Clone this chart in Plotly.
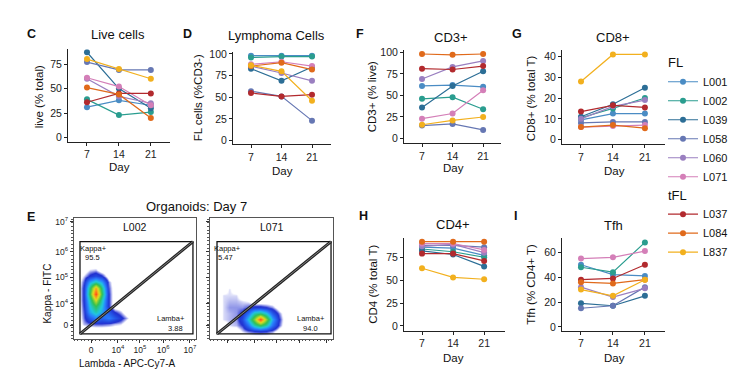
import plotly.graph_objects as go

W, H = 740, 370

days = [7, 14, 21]
patients = ["L001", "L002", "L039", "L058", "L060", "L071", "L037", "L084", "L837"]
groups = ["FL", "FL", "FL", "FL", "FL", "FL", "tFL", "tFL", "tFL"]
colors = ["#4A8CC4", "#2A9D8F", "#2C6E96", "#6677B3", "#9A7FC0", "#D47FB8",
          "#B22A2E", "#E06A1B", "#F2B01E"]

# values per patient (order as in `patients`), days 7/14/21
live_cells = [[31, 38, 33], [39, 23, 26], [87, 50, 30], [77, 69, 69], [60, 42, 35],
              [61, 52, 33], [36, 45, 45], [51, 44, 20], [80, 70, 60]]
lymphoma_cells = [[98, 98, 98], [96, 97, 97], [83, 69, 85], [57, 51, 23], [86, 78, 69],
                  [88, 91, 86], [55, 51, 53], [86, 90, 82], [87, 80, 46]]
cd3 = [[61, 62, 60], [46, 48, 34], [36, 61, 78], [15, 17, 10], [69, 83, 90],
       [23, 29, 56], [81, 80, 84], [98, 97, 98], [16, 21, 25]]
cd8 = [[9.5, 12.5, 12.5], [10.5, 15, 20], [11, 17, 25], [8, 8.5, 8.5], [10, 16, 19],
       [6, 6.5, 7], [13.5, 16.5, 15.5], [6, 7, 5.5], [28, 41, 41]]
cd4 = [[86, 85, 77], [84, 81, 75], [82, 78, 65], [88, 88, 86], [87, 89, 80],
       [90, 90, 83], [79, 79, 71], [92, 92, 92], [63, 53, 51]]
tfh = [[50, 42, 41], [48, 44, 68], [19, 17, 25], [15, 17, 32], [32, 24, 31],
       [55, 56, 61], [38, 39, 50], [36, 35, 38], [30, 25, 38]]

# flow cytometry (display scale 0-100), hand-estimated density grids
flow_ticks = [14, 36, 54, 73, 95]
flow_yticks = [11, 29, 51, 72, 97]
flow_ticktext = ["0", "10<sup>4</sup>", "10<sup>5</sup>", "10<sup>6</sup>", "10<sup>7</sup>"]
l002_x = [3, 8, 13, 18, 23, 28, 33, 38, 43, 48]
l002_y = [7, 12, 17, 22, 27, 32, 37, 42, 47, 52, 57, 62]
l002_density = [
    [0, 0, 0, 0, 0, 0, 0, 0, 0, 0],
    [0, 0.6, 0.8, 0.9, 0.9, 0.8, 0.6, 0.5, 0, 0],
    [0, 0.8, 1.8, 2.5, 2, 2.5, 1.8, 1.2, 0.6, 0],
    [0, 0.9, 3, 4, 3, 1.8, 1, 0.6, 0, 0],
    [0, 1, 3.5, 5, 3.5, 1, 0, 0, 0, 0],
    [0, 1.1, 4, 7, 4, 1, 0, 0, 0, 0],
    [0, 1.1, 5, 9.5, 5, 1, 0, 0, 0, 0],
    [0, 1.1, 4.5, 8, 4.5, 0.9, 0, 0, 0, 0],
    [0, 0.9, 3, 4, 3, 0.7, 0, 0, 0, 0],
    [0, 0.5, 1.1, 1.5, 1.1, 0, 0, 0, 0, 0],
    [0, 0, 0.5, 0.6, 0, 0, 0, 0, 0, 0],
    [0, 0, 0, 0, 0, 0, 0, 0, 0, 0],
]
l071_x = [6, 11, 16, 21, 26, 31, 36, 41, 46, 51, 56, 61, 66]
l071_y = [1, 6, 11, 16, 21, 26, 31, 36, 41, 46]
l071_density = [
    [0, 0, 0, 0, 0, 0, 0, 0, 0, 0, 0, 0, 0],
    [0, 0, 0, 0, 0.5, 0.8, 1, 1.1, 1, 0.7, 0, 0, 0],
    [0, 0, 0.5, 0.6, 1, 2.2, 4, 5, 4, 2.2, 0.8, 0, 0],
    [0, 0.5, 0.6, 0.7, 1.5, 3.5, 6, 9.5, 6, 3, 1, 0, 0],
    [0, 0.5, 0.6, 0.7, 1.1, 2.2, 4, 4.5, 3.5, 1.8, 0.7, 0, 0],
    [0, 0.5, 0.7, 0.7, 0.7, 0.9, 1.2, 1.2, 1, 0.7, 0, 0, 0],
    [0, 0.5, 0.6, 0.6, 0.5, 0.4, 0, 0, 0, 0, 0, 0, 0],
    [0, 0.5, 0.5, 0.5, 0, 0, 0, 0, 0, 0, 0, 0, 0],
    [0, 0, 0.5, 0, 0, 0, 0, 0, 0, 0, 0, 0, 0],
    [0, 0, 0, 0, 0, 0, 0, 0, 0, 0, 0, 0, 0],
]
gate_l002 = [4.9, 4, 97.5, 80.5]
gate_l071 = [5.7, 4, 98.4, 80.5]

FONT = "Liberation Sans, Arial, sans-serif"


def px_x(p):
    return p / W


def px_y(p):
    return 1 - p / H


fig = go.Figure()

panels = [
    (live_cells, (60, 162), (37, 131), (2.84, 25.2), (-4, 90), [0, 25, 50, 75]),
    (lymphoma_cells, (225, 323), (40, 134), (2.87, 25.36), (-4.5, 102), [0, 25, 50, 75, 100]),
    (cd3, (396, 493), (38, 133), (2.87, 25.1), (-5.7, 102.3), [0, 25, 50, 75, 100]),
    (cd8, (554, 657), (38, 134), (2.84, 25.4), (-2.35, 43), [0, 10, 20, 30, 40]),
    (cd4, (396, 497), (229, 324), (2.94, 25.7), (-5.4, 96.4), [0, 25, 50, 75]),
    (tfh, (554, 657), (229, 324), (2.84, 25.4), (-3.2, 71.8), [0, 20, 40, 60]),
]

layout_axes = {}
for k, (vals, dxp, dyp, xr, yr, yt) in enumerate(panels, start=1):
    xa = "x" if k == 1 else f"x{k}"
    ya = "y" if k == 1 else f"y{k}"
    for i, p in enumerate(patients):
        fig.add_trace(go.Scatter(
            x=days, y=vals[i], mode="lines+markers", name=p,
            line=dict(color=colors[i], width=1.2),
            marker=dict(color=colors[i], size=6),
            xaxis=xa, yaxis=ya,
            legend="legend" if groups[i] == "FL" else "legend2",
            legendgroup=groups[i], legendgrouptitle_text=groups[i],
            showlegend=(k == 1), hoverinfo="skip"))
    axcommon = dict(showline=True, linecolor="#222", linewidth=1, ticks="outside",
                    ticklen=3, tickcolor="#222", showgrid=False, zeroline=False,
                    tickfont=dict(size=10.5, color="#222", family=FONT))
    layout_axes["xaxis" if k == 1 else f"xaxis{k}"] = dict(
        domain=[px_x(dxp[0]), px_x(dxp[1])], anchor=ya, range=list(xr),
        tickvals=days, **axcommon)
    layout_axes["yaxis" if k == 1 else f"yaxis{k}"] = dict(
        domain=[px_y(dyp[1]), px_y(dyp[0])], anchor=xa, range=list(yr),
        tickvals=yt, **axcommon)

# flow density panels
jet = [[0, "rgba(255,255,255,0)"], [0.04, "rgba(30,40,210,0)"], [0.1, "#2030d0"],
       [0.25, "#2a7fff"], [0.35, "#20c8e0"], [0.5, "#30c050"], [0.7, "#e0e020"],
       [0.85, "#ff8a1a"], [1, "#ff1a1a"]]
fig.add_trace(go.Heatmap(x=l002_x, y=l002_y, z=l002_density, colorscale=jet, zmin=0, zmax=10,
                         zsmooth="best", showscale=False, xaxis="x7", yaxis="y7",
                         hoverinfo="skip"))
fig.add_trace(go.Heatmap(x=l071_x, y=l071_y, z=l071_density, colorscale=jet, zmin=0, zmax=10,
                         zsmooth="best", showscale=False, xaxis="x8", yaxis="y8",
                         hoverinfo="skip"))

flowax = dict(showline=True, mirror=True, linecolor="#555", linewidth=1.3, ticks="outside",
              ticklen=3, tickcolor="#333", showgrid=False, zeroline=False, range=[0, 100],
              tickfont=dict(size=8.5, color="#222", family=FONT),
              minor=dict(ticks="outside", ticklen=1.5, tickcolor="#555", dtick=3))
layout_axes["xaxis7"] = dict(domain=[px_x(66), px_x(188)], anchor="y7", tickvals=flow_ticks,
                             ticktext=flow_ticktext, **flowax)
layout_axes["yaxis7"] = dict(domain=[px_y(332), px_y(209)], anchor="x7", tickvals=flow_yticks,
                             ticktext=flow_ticktext, **flowax)
layout_axes["xaxis8"] = dict(domain=[px_x(202), px_x(325)], anchor="y8", tickvals=flow_ticks,
                             showticklabels=False, **flowax)
layout_axes["yaxis8"] = dict(domain=[px_y(332), px_y(209)], anchor="x8", tickvals=flow_yticks,
                             showticklabels=False, **flowax)

shapes = []
for g, (xr_, yr_) in zip([gate_l002, gate_l071], [("x7", "y7"), ("x8", "y8")]):
    shapes.append(dict(type="rect", xref=xr_, yref=yr_, x0=g[0], y0=g[1], x1=g[2], y1=g[3],
                       line=dict(color="#111", width=1.3)))
    shapes.append(dict(type="line", xref=xr_, yref=yr_, x0=g[0], y0=g[1], x1=g[2], y1=g[3],
                       line=dict(color="#222", width=3)))
    shapes.append(dict(type="line", xref=xr_, yref=yr_, x0=g[0], y0=g[1], x1=g[2], y1=g[3],
                       line=dict(color="#999", width=0.8)))

ann = []


def txt(x, y, s, size=11, **kw):
    d = dict(x=px_x(x), y=px_y(y), xref="paper", yref="paper", text=s, showarrow=False,
             font=dict(size=size, family=FONT, color="#111"), xanchor="center", yanchor="middle")
    d.update(kw)
    ann.append(d)


# panel letters
for L, x, y in [("C", 23, 21), ("D", 179, 21), ("F", 352, 21), ("G", 509, 21),
                ("E", 23, 208), ("H", 355, 207), ("I", 507, 207)]:
    txt(x, y, f"<b>{L}</b>", size=12.5)

# titles
for s, x, y in [("Live cells", 110, 22), ("Lymphoma Cells", 268, 23), ("CD3+", 443, 25),
                ("CD8+", 605, 25), ("CD4+", 445, 216), ("Tfh", 605, 217),
                ("Organoids: Day 7", 188, 197)]:
    txt(x, y, s, size=13)

# y titles
for s, x, y in [("live (% total)", 31, 86), ("FL cells (%CD3-)", 190, 87),
                ("CD3+ (% live)", 364, 86), ("CD8+ (% total T)", 523, 87),
                ("CD4 (% total T)", 365, 277), ("Tfh (% CD4+ T)", 523, 277)]:
    txt(x, y, s, size=11.5, textangle=-90)

# x titles
for x, y in [(111, 157), (274, 161), (445, 158), (606, 161), (446, 352), (606, 352)]:
    txt(x, y, "Day", size=11.5)

# flow texts
txt(40, 286, "Kappa - FITC", size=10, textangle=-90)
txt(119, 357, "Lambda - APC-Cy7-A", size=10)
txt(127, 218, "L002", size=10.5)
txt(264, 218, "L071", size=10.5)
for xa_, ya_, x, y, s in [("x7", "y7", 15.6, 74.8, "Kappa+"), ("x7", "y7", 14.8, 67.5, "95.5"),
                          ("x7", "y7", 79.5, 17, "Lamba+"), ("x7", "y7", 83.6, 8.1, "3.88"),
                          ("x8", "y8", 14.6, 74.8, "Kappa+"), ("x8", "y8", 12.2, 67.5, "5.47"),
                          ("x8", "y8", 82, 17, "Lamba+"), ("x8", "y8", 82, 8.1, "94.0")]:
    ann.append(dict(x=x, y=y, xref=xa_, yref=ya_, text=s, showarrow=False,
                    font=dict(size=7.5, family=FONT, color="#111")))

legend_style = dict(xanchor="left", yanchor="top",
                    font=dict(size=11, family=FONT, color="#111"), tracegroupgap=0,
                    itemwidth=30, bgcolor="rgba(0,0,0,0)",
                    grouptitlefont=dict(size=13, family=FONT, color="#111"))

fig.update_layout(
    width=W, height=H, margin=dict(l=0, r=0, t=0, b=0),
    paper_bgcolor="white", plot_bgcolor="rgba(0,0,0,0)",
    font=dict(family=FONT, color="#111"),
    shapes=shapes, annotations=ann,
    legend=dict(x=px_x(655), y=px_y(35), **legend_style),
    legend2=dict(x=px_x(655), y=px_y(170), **legend_style),
    **layout_axes)

fig.write_html("out.html")
